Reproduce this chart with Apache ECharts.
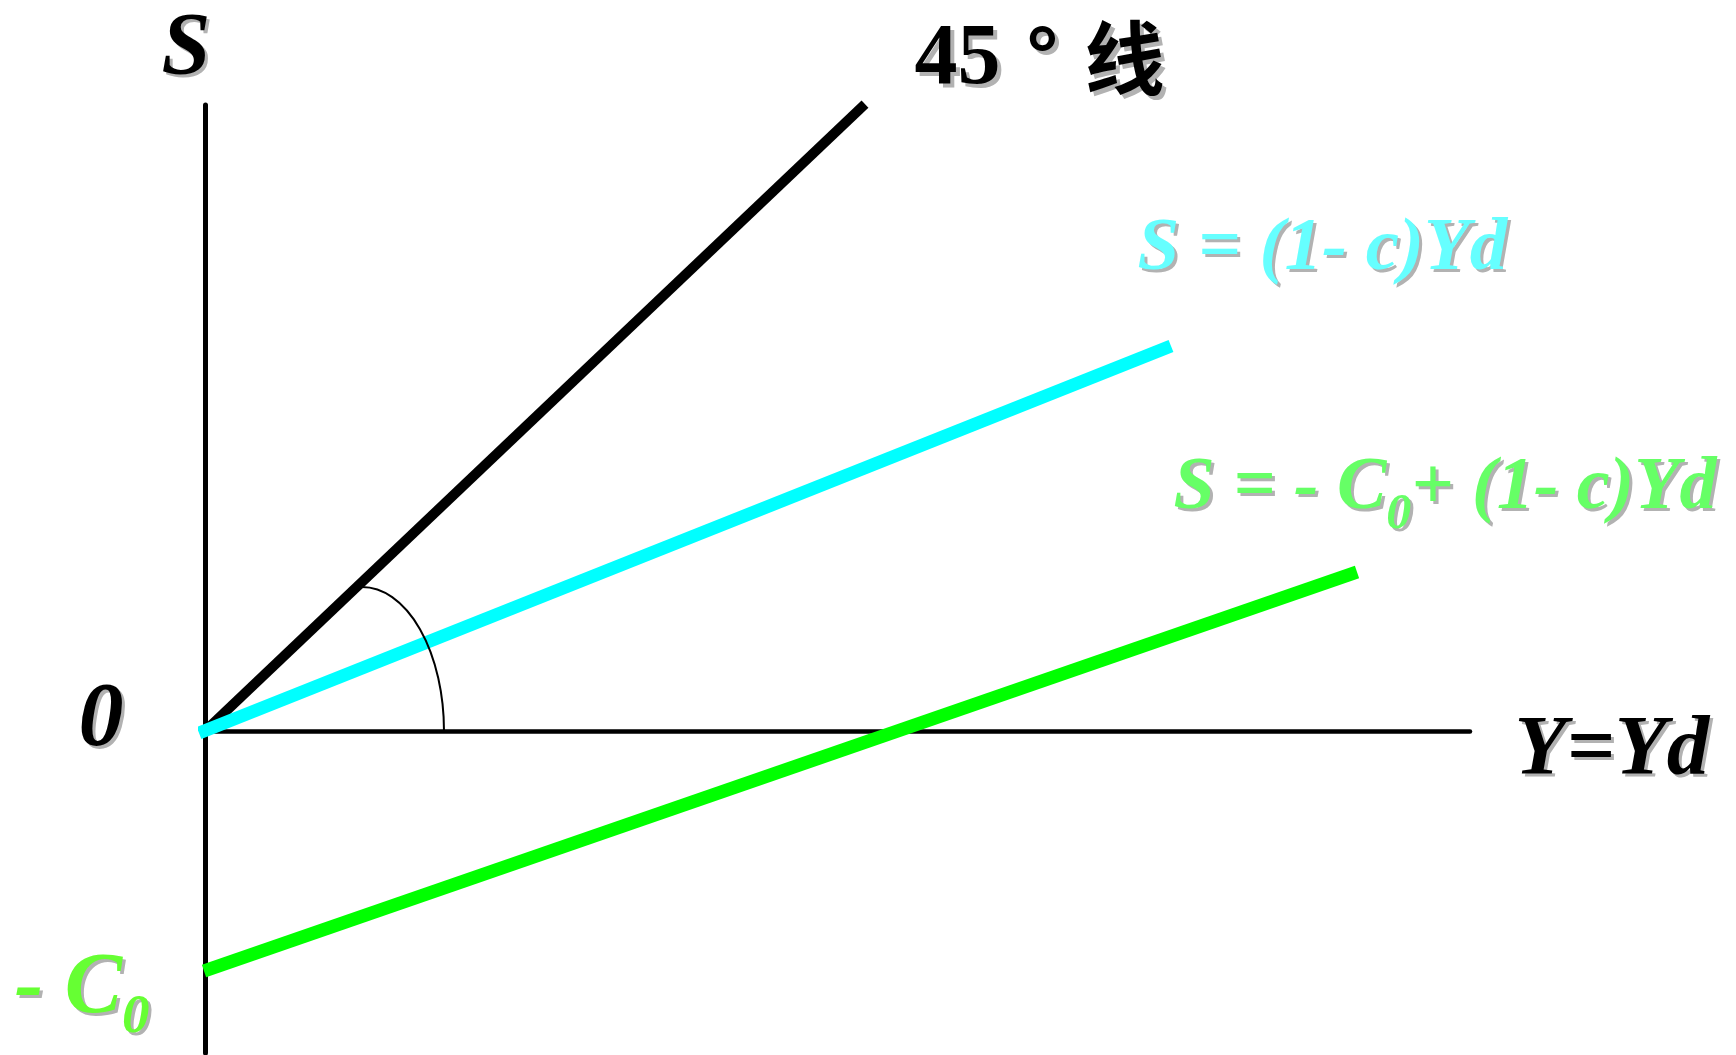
<!DOCTYPE html>
<html>
<head>
<meta charset="utf-8">
<script src="https://cdn.jsdelivr.net/npm/echarts/dist/echarts.min.js"></script>
<style>
html,body{margin:0;padding:0;background:#ffffff;}
#chart{width:1736px;height:1055px;}
</style>
</head>
<body>
<div id="chart"></div>
<script>
// ---- data (units; origin at the axes' crossing) ----
const xRange = [0, 12.65];
const yRange = [-3.22, 6.26];
const line45 = [[0, 0], [6.60, 6.27]];
const savingLine = [[-0.06, -0.02], [9.66, 3.85]];
const savingC0Line = [[-0.01, -2.40], [11.52, 1.59]];
const angleArc = [[1.57, 0, 0.82, 1.44]]; // centre x, centre y, radius x, radius y
const labelTexts = ['S', '45° 线', 'S = (1- c)Yd', 'S = - C0+ (1- c)Yd', 'Y=Yd', '0', '- C0'];
const labelAnchors = [[-0.43, 7.24], [7.10, 7.125], [9.33, 5.186], [9.69, 2.783], [13.10, 0.21], [-1.26, 0.533], [-1.90, -2.162]];

// ---- styles ----
const SERIF = '"Liberation Serif","Times New Roman",serif';
const CJK = '"Noto Sans CJK SC","Noto Sans CJK JP",sans-serif';
const SHADOW = '#b2b2b2';
function st(size, color, extra) {
  return Object.assign({
    fontFamily: SERIF, fontWeight: 'bold', fontStyle: 'italic',
    fontSize: size, lineHeight: size, color: color, verticalAlign: 'top'
  }, extra || {});
}
function labelStyle(i, c) {
  // c: colour override (for the drop shadow copy) or null
  switch (i) {
    case 0: return {fmt: '{a|S}', rich: {a: st(88, c || '#000000')}};
    case 1: return {fmt: '{n|45}{d|°}{c|线}', rich: {
      n: st(86, c || '#000000', {fontStyle: 'normal'}),
      d: {fontFamily: CJK, fontWeight: 'bold', fontSize: 80, lineHeight: 86, width: 84, align: 'center', color: c || '#000000', verticalAlign: 'top'},
      c: {fontFamily: CJK, fontWeight: 'bold', fontSize: 80, lineHeight: 86, color: c || '#000000', verticalAlign: 'top'}
    }};
    case 2: return {fmt: '{a|S = (1- c)Yd}', rich: {a: st(75, c || '#66FFFF')}};
    case 3: return {fmt: '{a|S = - C}{s|0}{a|+ (1- c)Yd}', rich: {
      a: st(74, c || '#66FF66'),
      s: st(50, c || '#66FF66', {lineHeight: 88, verticalAlign: 'bottom'})
    }};
    case 4: return {fmt: '{a|Y=Yd}', rich: {a: st(85, c || '#000000')}};
    case 5: return {fmt: '{a|0}', rich: {a: st(90, c || '#000000')}};
    default: return {fmt: '{a|- C}{s|0}', rich: {
      a: st(86, c || '#66FF33'),
      s: st(55, c || '#66FF33', {lineHeight: 99, verticalAlign: 'bottom'})
    }};
  }
}
function makeLabels(isShadow) {
  return labelTexts.map(function (t, i) {
    const s = labelStyle(i, isShadow ? SHADOW : null);
    const off = isShadow ? (i === 1 ? 4 : 3) : 0;
    return {
      name: t,
      value: labelAnchors[i],
      label: {
        show: true, position: [0, 0], align: 'left', verticalAlign: 'top',
        offset: [off, off], formatter: s.fmt, rich: s.rich
      }
    };
  });
}

const chart = echarts.init(document.getElementById('chart'), null, {renderer: 'canvas'});
chart.setOption({
  animation: false,
  backgroundColor: '#ffffff',
  grid: {left: 205, right: 266, top: 105, bottom: 2, containLabel: false},
  xAxis: {
    type: 'value', min: xRange[0], max: xRange[1],
    axisLine: {show: true, onZero: true, lineStyle: {color: '#000000', width: 4.5}},
    axisTick: {show: false}, axisLabel: {show: false}, splitLine: {show: false}
  },
  yAxis: {
    type: 'value', min: yRange[0], max: yRange[1],
    axisLine: {show: true, onZero: true, lineStyle: {color: '#000000', width: 5}},
    axisTick: {show: false}, axisLabel: {show: false}, splitLine: {show: false}
  },
  series: [
    {name: '45° 线', type: 'line', data: line45, symbol: 'none', clip: false, silent: true, z: 2,
      lineStyle: {color: '#000000', width: 10, cap: 'butt'}},
    {name: 'S = (1- c)Yd', type: 'line', data: savingLine, symbol: 'none', clip: false, silent: true, z: 3,
      lineStyle: {color: '#00FFFF', width: 13, cap: 'butt'}},
    {name: 'S = - C0+ (1- c)Yd', type: 'line', data: savingC0Line, symbol: 'none', clip: false, silent: true, z: 3,
      lineStyle: {color: '#00FF00', width: 13, cap: 'butt'}},
    {name: 'angle', type: 'custom', data: angleArc, silent: true, z: 4, clip: false,
      renderItem: function (params, api) {
        const cx = api.value(0), cy = api.value(1), rx = api.value(2), ry = api.value(3);
        const c = api.coord([cx, cy]);
        const top = api.coord([cx, cy + ry]);
        const right = api.coord([cx + rx, cy]);
        const prx = right[0] - c[0], pry = c[1] - top[1];
        return {
          type: 'path',
          shape: {pathData: 'M' + top[0] + ' ' + top[1] + ' A' + prx + ' ' + pry + ' 0 0 1 ' + right[0] + ' ' + right[1]},
          style: {fill: 'none', stroke: '#000000', lineWidth: 2}
        };
      }},
    {name: 'labelShadows', type: 'scatter', data: makeLabels(true), symbolSize: 1, clip: false, silent: true, z: 5,
      itemStyle: {color: 'rgba(0,0,0,0)', opacity: 1}},
    {name: 'labels', type: 'scatter', data: makeLabels(false), symbolSize: 1, clip: false, silent: true, z: 6,
      itemStyle: {color: 'rgba(0,0,0,0)', opacity: 1}}
  ]
});
</script>
</body>
</html>
